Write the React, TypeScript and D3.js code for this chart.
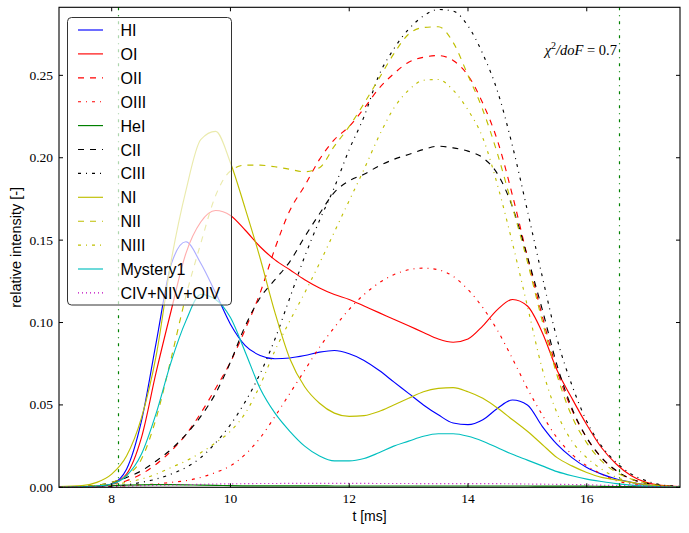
import React from "react";
import * as d3 from "d3";

const T = [7.0, 7.5, 7.75, 8.0, 8.25, 8.5, 8.75, 9.0, 9.25, 9.5, 9.75, 10.0, 10.25, 10.5, 10.75, 11.0, 11.25, 11.5, 11.75, 12.0, 12.25, 12.5, 12.75, 13.0, 13.25, 13.5, 13.75, 14.0, 14.25, 14.5, 14.75, 15.0, 15.25, 15.5, 15.75, 16.0, 16.25, 16.5, 16.75, 17.0, 17.25, 17.75];

const HI = [0, 0.0002, 0.0005, 0.002, 0.011, 0.04, 0.088, 0.135, 0.149, 0.136, 0.118, 0.099, 0.086, 0.08, 0.078, 0.0785, 0.08, 0.082, 0.083, 0.081, 0.077, 0.071, 0.064, 0.057, 0.05, 0.044, 0.039, 0.038, 0.041, 0.048, 0.053, 0.05, 0.037, 0.026, 0.018, 0.012, 0.008, 0.005, 0.003, 0.0015, 0.0007, 0.0002];
const OI = [0, 0.0002, 0.0006, 0.002, 0.008, 0.03, 0.07, 0.107, 0.142, 0.161, 0.168, 0.165, 0.156, 0.146, 0.138, 0.132, 0.126, 0.121, 0.117, 0.114, 0.11, 0.106, 0.102, 0.098, 0.094, 0.09, 0.088, 0.09, 0.098, 0.108, 0.114, 0.11, 0.094, 0.071, 0.054, 0.038, 0.024, 0.014, 0.007, 0.003, 0.0012, 0.0002];
const OII = [0, 0.0003, 0.001, 0.002, 0.004, 0.008, 0.014, 0.022, 0.032, 0.045, 0.06, 0.076, 0.096, 0.118, 0.145, 0.168, 0.183, 0.199, 0.211, 0.219, 0.23, 0.242, 0.251, 0.258, 0.261, 0.262, 0.259, 0.25, 0.233, 0.21, 0.177, 0.14, 0.104, 0.071, 0.047, 0.03, 0.018, 0.01, 0.005, 0.0025, 0.001, 0.0002];
const OIII = [0, 0, 0.0002, 0.0005, 0.001, 0.0015, 0.002, 0.003, 0.004, 0.006, 0.009, 0.013, 0.02, 0.03, 0.043, 0.057, 0.071, 0.085, 0.097, 0.108, 0.117, 0.124, 0.129, 0.132, 0.133, 0.132, 0.128, 0.12, 0.109, 0.095, 0.078, 0.06, 0.044, 0.03, 0.02, 0.013, 0.008, 0.004, 0.002, 0.001, 0.0004, 0];
const HeI = [0.0003, 0.0005, 0.0008, 0.001, 0.0013, 0.0015, 0.0016, 0.0016, 0.0015, 0.0013, 0.0012, 0.001, 0.0009, 0.0009, 0.0009, 0.0009, 0.0009, 0.0009, 0.0008, 0.0008, 0.0008, 0.0008, 0.0008, 0.0008, 0.0008, 0.0008, 0.0008, 0.0008, 0.0008, 0.0008, 0.0008, 0.0008, 0.0007, 0.0007, 0.0007, 0.0007, 0.0006, 0.0005, 0.0004, 0.0003, 0.0002, 0.0001];
const CII = [0, 0.0005, 0.0012, 0.003, 0.006, 0.01, 0.016, 0.023, 0.032, 0.043, 0.057, 0.076, 0.098, 0.115, 0.126, 0.137, 0.152, 0.166, 0.179, 0.186, 0.19, 0.195, 0.199, 0.202, 0.205, 0.207, 0.206, 0.204, 0.2, 0.19, 0.17, 0.14, 0.108, 0.074, 0.048, 0.03, 0.018, 0.01, 0.005, 0.0025, 0.001, 0.0002];
const CIII = [0, 0, 0.0003, 0.0008, 0.0015, 0.003, 0.005, 0.008, 0.012, 0.018, 0.027, 0.038, 0.052, 0.069, 0.09, 0.115, 0.14, 0.162, 0.182, 0.205, 0.225, 0.25, 0.266, 0.278, 0.286, 0.29, 0.289, 0.28, 0.263, 0.24, 0.207, 0.168, 0.128, 0.09, 0.062, 0.04, 0.025, 0.015, 0.008, 0.004, 0.0015, 0.0003];
const NI = [0.0003, 0.001, 0.003, 0.008, 0.019, 0.042, 0.08, 0.137, 0.18, 0.211, 0.216, 0.197, 0.169, 0.139, 0.106, 0.078, 0.061, 0.051, 0.045, 0.043, 0.0435, 0.046, 0.05, 0.054, 0.058, 0.06, 0.0605, 0.058, 0.054, 0.048, 0.041, 0.034, 0.026, 0.018, 0.013, 0.009, 0.006, 0.0045, 0.003, 0.0015, 0.0007, 0.0002];
const NII = [0, 0.0005, 0.0012, 0.003, 0.007, 0.017, 0.042, 0.078, 0.116, 0.148, 0.177, 0.192, 0.1955, 0.1955, 0.1945, 0.193, 0.1915, 0.194, 0.207, 0.219, 0.233, 0.248, 0.263, 0.275, 0.279, 0.2795, 0.27, 0.25, 0.229, 0.202, 0.17, 0.137, 0.101, 0.068, 0.043, 0.027, 0.016, 0.009, 0.005, 0.0025, 0.001, 0.0002];
const NIII = [0, 0.0002, 0.0006, 0.0015, 0.003, 0.005, 0.008, 0.012, 0.016, 0.021, 0.027, 0.034, 0.045, 0.062, 0.083, 0.101, 0.118, 0.136, 0.155, 0.174, 0.193, 0.213, 0.23, 0.241, 0.247, 0.2475, 0.241, 0.229, 0.212, 0.183, 0.148, 0.11, 0.072, 0.045, 0.028, 0.018, 0.011, 0.006, 0.003, 0.0015, 0.0006, 0.0001];
const Mystery1 = [0, 0.0003, 0.0008, 0.002, 0.007, 0.02, 0.045, 0.076, 0.101, 0.117, 0.114, 0.103, 0.082, 0.06, 0.045, 0.034, 0.025, 0.019, 0.016, 0.016, 0.0175, 0.021, 0.025, 0.028, 0.031, 0.0325, 0.0325, 0.031, 0.028, 0.024, 0.02, 0.0165, 0.013, 0.0095, 0.007, 0.005, 0.0035, 0.0022, 0.0013, 0.0007, 0.0003, 0];
const CNOIV = [0.0002, 0.0003, 0.0004, 0.0006, 0.0008, 0.001, 0.0012, 0.0014, 0.0016, 0.0018, 0.002, 0.0021, 0.0022, 0.0023, 0.0023, 0.0024, 0.0024, 0.0024, 0.0024, 0.0024, 0.0024, 0.0023, 0.0023, 0.0023, 0.0022, 0.0022, 0.0022, 0.0022, 0.0022, 0.0022, 0.0021, 0.002, 0.0019, 0.0018, 0.0017, 0.0015, 0.0013, 0.0011, 0.0009, 0.0006, 0.0004, 0.0002];

const SERIES_NAMES = ["HI", "OI", "OII", "OIII", "HeI", "CII", "CIII", "NI", "NII", "NIII", "Mystery1", "CIV+NIV+OIV"];
const SERIES_VALUES = [HI, OI, OII, OIII, HeI, CII, CIII, NI, NII, NIII, Mystery1, CNOIV];
const SERIES_COLORS = ["#0000ff", "#ff0000", "#ff0000", "#ff0000", "#008000", "#000000", "#000000", "#bfbf00", "#bfbf00", "#bfbf00", "#00bfbf", "#bf00bf"];
const SERIES_DASH = ["", "", "6,6", "3,5,1,5", "", "6,6", "3,5,1,5", "", "6,6", "3,5,1,5", "", "1,3"];

const X_TICKS = [8, 10, 12, 14, 16];
const Y_TICKS = [0, 0.05, 0.1, 0.15, 0.2, 0.25];
const VLINES = [8.1, 16.54];

const W = 689, H = 533;
const L = 59, R = 680, TOP = 7.3, BOT = 487.3;

export default function App() {
  const x = d3.scaleLinear().domain([7.113, 17.57]).range([L, R]);
  const y = d3.scaleLinear().domain([0, 0.2913]).range([BOT, TOP]);
  const line = d3
    .line<number>()
    .x((_, i) => x(T[i]))
    .y((v) => y(v))
    .curve(d3.curveMonotoneX);

  const serif = "'Liberation Serif', 'Times New Roman', serif";
  const sans = "'Liberation Sans', Arial, sans-serif";
  const legX = 67.5, legY = 17.5, legW = 164, legH = 287.5;
  const rowY0 = 30, rowStep = 23.9;

  return (
    <svg width={W} height={H} style={{ position: "absolute", left: 0, top: 0, background: "#fff" }}>
      <defs>
        <clipPath id="plot">
          <rect x={L} y={TOP} width={R - L} height={BOT - TOP} />
        </clipPath>
      </defs>
      <rect x={0} y={0} width={W} height={H} fill="#fff" />
      <g clipPath="url(#plot)">
        {SERIES_VALUES.map((vals, k) => (
          <path
            key={k}
            d={line(vals) || ""}
            fill="none"
            stroke={SERIES_COLORS[k]}
            strokeWidth={1.15}
            strokeDasharray={SERIES_DASH[k] || undefined}
          />
        ))}
        {VLINES.map((t, k) => {
          const xv = Math.round(x(t)) + 0.5;
          return (
            <line key={k} x1={xv} x2={xv} y1={TOP} y2={BOT} stroke="#008000" strokeWidth={1.2} strokeDasharray="3,5,1,5" />
          );
        })}
      </g>
      {/* frame */}
      <rect x={L} y={TOP} width={R - L} height={BOT - TOP} fill="none" stroke="#000" strokeWidth={1.1} />
      {/* ticks */}
      {X_TICKS.map((t) => (
        <g key={"xt" + t}>
          <line x1={x(t)} x2={x(t)} y1={BOT} y2={BOT - 4} stroke="#000" />
          <line x1={x(t)} x2={x(t)} y1={TOP} y2={TOP + 4} stroke="#000" />
          <text x={x(t)} y={503} textAnchor="middle" fontFamily={serif} fontSize={13.5} fill="#000">
            {String(t)}
          </text>
        </g>
      ))}
      {Y_TICKS.map((v) => (
        <g key={"yt" + v}>
          <line x1={L} x2={L + 4} y1={y(v)} y2={y(v)} stroke="#000" />
          <line x1={R} x2={R - 4} y1={y(v)} y2={y(v)} stroke="#000" />
          <text x={53} y={y(v) + 4.5} textAnchor="end" fontFamily={serif} fontSize={13.5} fill="#000">
            {v.toFixed(2)}
          </text>
        </g>
      ))}
      {/* axis labels */}
      <text x={(L + R) / 2} y={521} textAnchor="middle" fontFamily={sans} fontSize={14} fill="#000">
        t [ms]
      </text>
      <text
        transform={`translate(21,${(TOP + BOT) / 2}) rotate(-90)`}
        textAnchor="middle"
        fontFamily={sans}
        fontSize={14.5}
        fill="#000"
      >
        relative intensity [-]
      </text>
      {/* chi text */}
      <text x={617} y={55} textAnchor="end" fontFamily={serif} fontSize={14.5} fill="#000">
        <tspan fontStyle="italic">χ</tspan>
        <tspan fontSize={10} dy={-6}>2</tspan>
        <tspan dy={6} fontStyle="italic">/doF</tspan>
        <tspan>{" = 0.7"}</tspan>
      </text>
      {/* legend */}
      <rect x={legX} y={legY} width={legW} height={legH} rx={4} ry={4} fill="#fff" fillOpacity={0.68} stroke="#333" strokeWidth={1} />
      {SERIES_NAMES.map((name, k) => {
        const ry = rowY0 + k * rowStep;
        return (
          <g key={"lg" + k}>
            <line x1={78} x2={103} y1={ry} y2={ry} stroke={SERIES_COLORS[k]} strokeWidth={1.15} strokeDasharray={SERIES_DASH[k] || undefined} />
            <text x={120.5} y={ry + 6} fontFamily={sans} fontSize={16} fill="#000">
              {name}
            </text>
          </g>
        );
      })}
    </svg>
  );
}
